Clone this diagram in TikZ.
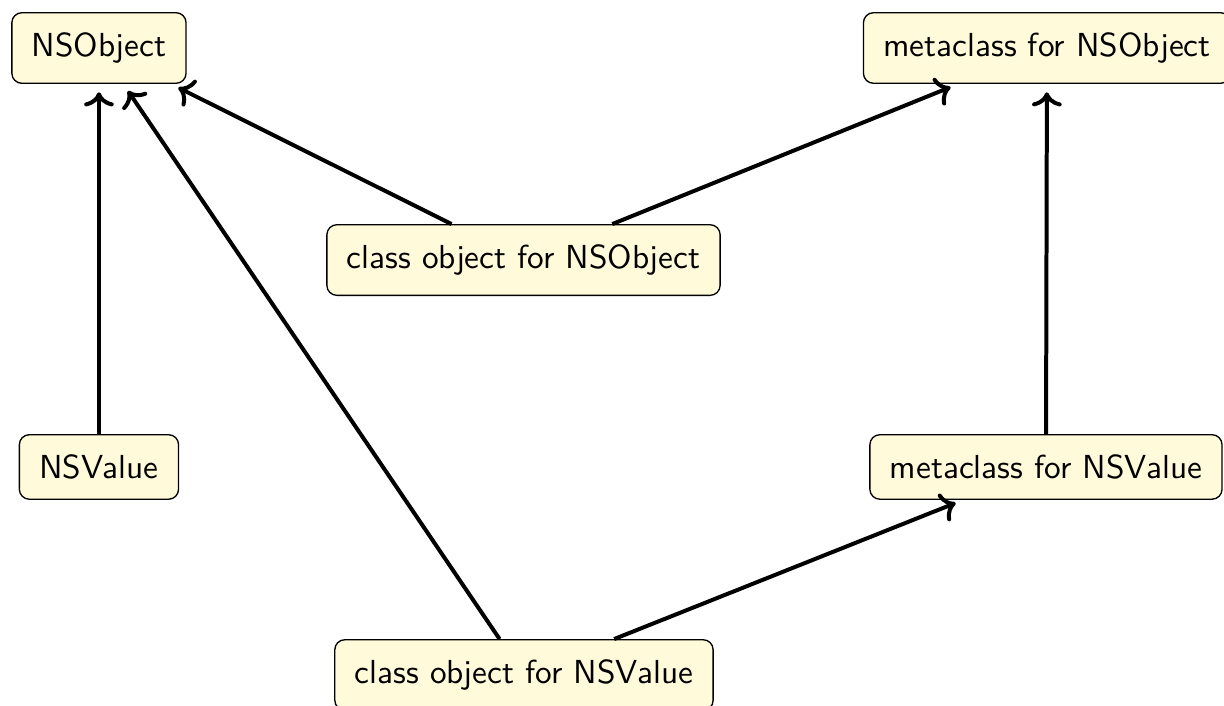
\documentclass[tikz,border=0pt]{standalone}
\usepackage{tikz}
\usetikzlibrary{arrows.meta}
\definecolor{clsfill}{RGB}{255,250,218}

\begin{document}
\begin{tikzpicture}[
    cls/.style={draw, fill=clsfill, rounded corners=3pt, inner sep=6pt, font=\sffamily},
    isa/.style={->, very thick, shorten >=2.5pt}]
    \useasboundingbox (0,0) rectangle (12.925,-7.455);

    % top row
    \node[cls] (nsobj) at (1.045,-0.507) {NSObject};
    \node[cls] (metaobj) at (11.056,-0.507) {metaclass for NSObject};

    % class objects
    \node[cls] (clsobj) at (5.528,-2.746) {class object for NSObject};
    \node[cls] (clsval) at (5.533,-7.128) {class object for NSValue};

    % NSValue row
    \node[cls] (nsval) at (1.045,-4.931) {NSValue};
    \node[cls] (metaval) at (11.045,-4.931) {metaclass for NSValue};

    % superclass / isa links
    \draw[isa] (nsval) -- (nsobj);
    \draw[isa] (clsobj) -- (nsobj);
    \draw[isa] (clsobj) -- (metaobj);
    \draw[isa] (metaval) -- (metaobj);
    \draw[isa] (clsval) -- (nsobj);
    \draw[isa] (clsval) -- (metaval);
\end{tikzpicture}
\end{document}
